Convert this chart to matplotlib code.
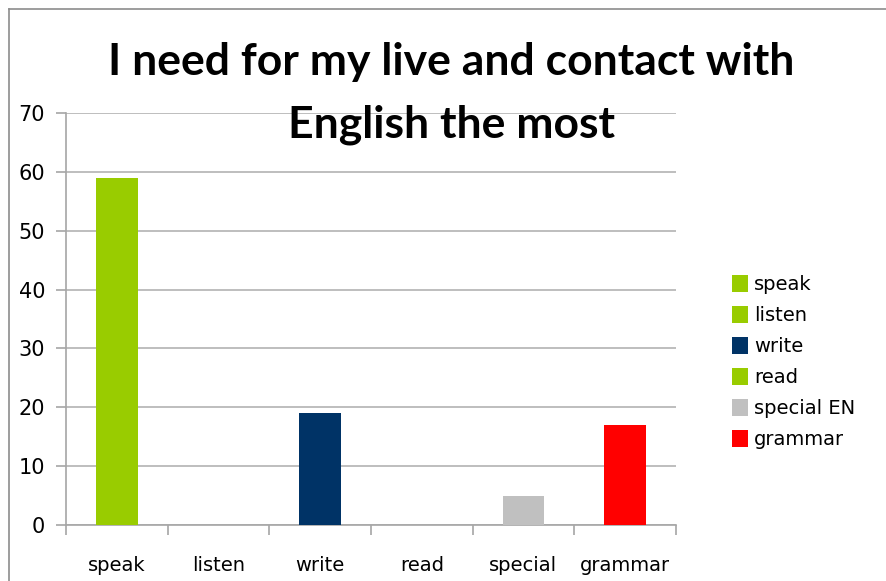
import matplotlib.pyplot as plt
from matplotlib.patches import Patch
from matplotlib.lines import Line2D
import numpy as np

# skills and number of answers
categories = ['speak', 'listen', 'write', 'read', 'special', 'grammar']
legend_labels = ['speak', 'listen', 'write', 'read', 'special EN', 'grammar']
values = [59, 0, 19, 0, 5, 17]
colors = ['#99cc00', '#99cc00', '#003366', '#99cc00', '#c0c0c0', '#ff0000']
title_lines = ['I need for my live and contact with', 'English the most']

plt.rcParams['font.family'] = ['DejaVu Sans']

W, H = 886, 581
fig = plt.figure(figsize=(W / 100, H / 100), dpi=100)

# outer chart frame (runs off the right and bottom edges)
fig.add_artist(Line2D([8.5 / W, 8.5 / W], [0, 1 - 8.5 / H], color='#8c8c8c', lw=1.2))
fig.add_artist(Line2D([8.5 / W, 1], [1 - 8.5 / H, 1 - 8.5 / H], color='#8c8c8c', lw=1.2))

ax = fig.add_axes([66 / W, 56 / H, (676 - 66) / W, (525 - 113) / H])
x = np.arange(len(categories))
ax.bar(x, values, width=0.41, color=colors, zorder=3)

ax.set_xlim(-0.5, len(categories) - 0.5)
ax.set_ylim(0, 70)
ax.set_yticks(range(0, 71, 10))
ax.yaxis.grid(True, color='#b3b3b3', lw=1.2, zorder=0)

ax.set_xticks(x)
ax.set_xticklabels(categories)
ax.set_xticks(np.arange(-0.5, len(categories)), minor=True)
ax.tick_params(axis='x', which='major', length=0, pad=22, labelsize=14)
ax.tick_params(axis='x', which='minor', length=7, color='#a6a6a6', width=1.2)
ax.tick_params(axis='y', length=7, color='#a6a6a6', width=1.2, labelsize=15, pad=8)

for s in ['top', 'right']:
    ax.spines[s].set_visible(False)
for s in ['left', 'bottom']:
    ax.spines[s].set_color('#a6a6a6')
    ax.spines[s].set_linewidth(1.2)

for i, line in enumerate(title_lines):
    fig.text(451 / W, 1 - (62 + 63 * i) / H, line, ha='center', va='center',
             fontsize=32, fontweight='bold', family='Lato')

handles = [Patch(facecolor=c, edgecolor='none') for c in colors]
fig.legend(handles, legend_labels, loc='upper left',
           bbox_to_anchor=(722 / W, 1 - 265 / H), frameon=False,
           fontsize=14, handlelength=0.85, handleheight=1.0,
           handletextpad=0.3, labelspacing=0.6, borderpad=0)

fig.savefig('out.png', dpi=100)
